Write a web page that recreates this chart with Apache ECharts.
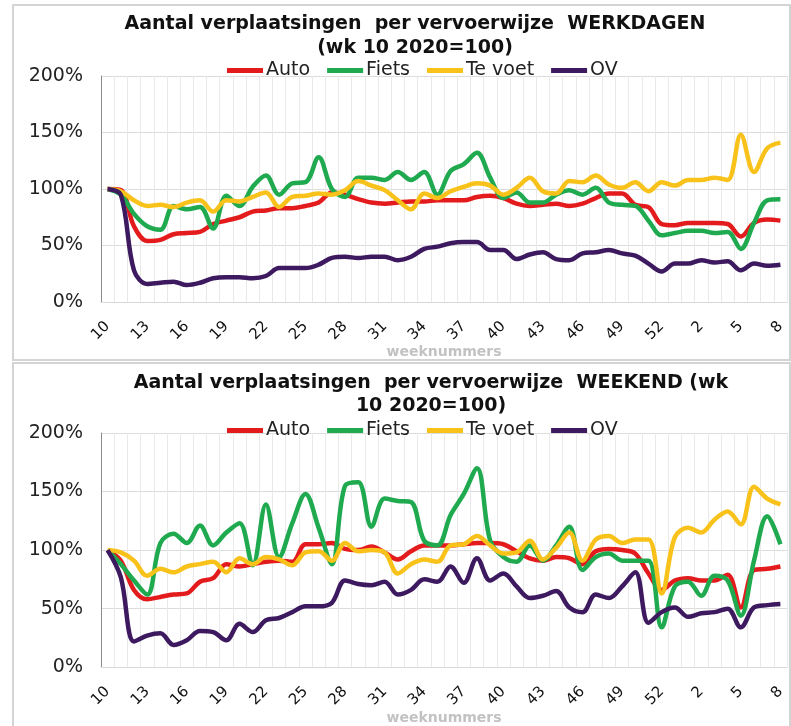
<!DOCTYPE html>
<html>
<head>
<meta charset="utf-8">
<script src="https://cdn.jsdelivr.net/npm/echarts@6/dist/echarts.min.js"></script>
<style>
  html, body { margin: 0; padding: 0; background: #fff; }
  #chart { width: 791px; height: 726px; }
</style>
</head>
<body>
<div id="chart"></div>
<script>
  // weeknummers: wk 10 t/m 53 van 2020, daarna wk 1 t/m 8 van 2021
  var weeks = ['10','11','12','13','14','15','16','17','18','19','20','21','22','23','24','25','26','27','28','29',
    '30','31','32','33','34','35','36','37','38','39','40','41','42','43','44','45','46','47','48','49',
    '50','51','52','53','1','2','3','4','5','6','7','8'];

  // werkdagen (wk 10 2020 = 100)
  var werkAuto = [100,99,67,54,55,60,61,62,69,72,75,80,81,83,83,85,88,97,95,91,
    88,87,88,89,89,90,90,90,93,94,92,87,85,86,87,85,87,92,96,96,
    86,84,69,68,70,70,70,69,58,70,73,72];
  var werkFiets = [100,95,78,67,64,85,82,84,65,94,85,102,112,95,105,106,128,100,93,110,
    110,108,115,108,115,95,116,122,132,110,92,97,88,88,95,99,95,101,88,86,
    85,72,59,61,63,63,61,62,47,70,90,91];
  var werkVoet = [100,98,90,85,86,84,88,90,80,90,89,93,97,84,93,94,96,95,99,107,
    103,99,90,82,96,92,98,102,105,103,95,101,110,98,96,107,106,112,104,101,
    106,98,106,103,108,108,110,108,148,115,136,141];
  var werkOV = [100,95,28,16,17,18,15,17,21,22,22,21,23,30,30,30,33,39,40,39,
    40,40,37,40,47,49,52,53,53,46,46,38,42,44,38,37,43,44,46,43,
    41,34,27,34,34,37,35,36,28,34,32,33];

  // weekend (wk 10 2020 = 100)
  var wkndAuto = [100,91,66,58,60,62,63,73,76,88,86,88,90,91,90,105,105,106,101,100,
    103,98,92,99,104,104,104,105,106,106,105,99,93,91,94,93,88,99,101,100,
    97,80,66,74,76,74,74,79,51,83,84,86];
  var wkndFiets = [100,88,74,62,106,114,106,121,104,115,123,87,139,94,123,148,119,88,155,158,
    120,144,142,141,108,104,130,148,170,108,94,90,104,91,104,120,83,94,97,91,
    91,91,34,69,73,61,78,74,44,91,129,105];
  var wkndVoet = [100,98,91,78,84,81,86,88,90,81,93,88,94,92,87,98,99,91,106,99,
    100,98,80,88,92,90,104,105,112,104,97,98,108,92,102,115,91,109,112,106,
    109,109,63,111,119,115,126,133,122,154,144,139];
  var wkndOV = [100,77,22,27,29,19,23,31,30,23,37,30,40,42,47,52,52,55,74,71,
    70,73,62,66,75,73,86,72,93,74,80,69,59,61,65,51,47,62,59,69,
    81,38,47,51,43,46,47,50,34,51,53,54];

  var names = ['Auto', 'Fiets', 'Te voet', 'OV'];
  var colors = ['#e41b1d', '#1faa4f', '#f9c21b', '#3d1a60'];
  var font = 'DejaVu Sans';

  var chart = echarts.init(document.getElementById('chart'), null, {renderer: 'canvas'});

  function xAxisFor(idx) {
    return {
      type: 'category',
      gridIndex: idx,
      data: weeks,
      boundaryGap: true,
      name: 'weeknummers',
      nameLocation: 'middle',
      nameGap: 41,
      nameTextStyle: {color: '#c2c2c2', fontWeight: 'bold', fontSize: 14, fontFamily: font},
      axisLine: {lineStyle: {color: '#d9d9d9'}},
      axisTick: {show: false},
      axisLabel: {interval: 2, rotate: 45, margin: 22, fontSize: 15, color: '#111', fontFamily: font},
      splitLine: {show: true, interval: 0, lineStyle: {color: '#e9e9e9', width: 1}}
    };
  }

  function yAxisFor(idx) {
    return {
      type: 'value',
      gridIndex: idx,
      min: 0,
      max: 200,
      interval: 50,
      axisLine: {show: true, lineStyle: {color: '#8c8c8c'}},
      axisTick: {show: false},
      axisLabel: {formatter: '{value}%', margin: 18, fontSize: 19, color: '#222', fontFamily: font},
      splitLine: {lineStyle: {color: '#dcdcdc'}}
    };
  }

  function lineSeries(name, data, idx, color) {
    return {
      name: name,
      type: 'line',
      xAxisIndex: idx,
      yAxisIndex: idx,
      data: data,
      smooth: 0.35,
      showSymbol: false,
      lineStyle: {width: 4.5, color: color},
      itemStyle: {color: color}
    };
  }

  function legendFor(top) {
    return {
      data: names,
      left: 222,
      top: top,
      icon: 'rect',
      itemWidth: 36,
      itemHeight: 5,
      itemGap: 17,
      textStyle: {fontSize: 19, color: '#222', fontFamily: font, padding: [0, 0, 0, -2]}
    };
  }

  var option = {
    animation: false,
    backgroundColor: '#fff',
    graphic: [
      {type: 'rect', shape: {x: 13, y: 5, width: 777, height: 355}, style: {fill: 'none', stroke: '#d4d4d4', lineWidth: 2}},
      {type: 'rect', shape: {x: 13, y: 363, width: 777, height: 370}, style: {fill: 'none', stroke: '#d4d4d4', lineWidth: 2}}
    ],
    title: [
      {
        text: 'Aantal verplaatsingen  per vervoerwijze  WERKDAGEN\n(wk 10 2020=100)',
        left: 415, top: 12, padding: 0, textAlign: 'center',
        textStyle: {fontSize: 19, fontWeight: 'bold', color: '#111', fontFamily: font, lineHeight: 24}
      },
      {
        text: 'Aantal verplaatsingen  per vervoerwijze  WEEKEND (wk\n10 2020=100)',
        left: 431, top: 372, padding: 0, textAlign: 'center',
        textStyle: {fontSize: 19, fontWeight: 'bold', color: '#111', fontFamily: font, lineHeight: 23}
      }
    ],
    legend: [legendFor(56), legendFor(416)],
    grid: [
      {left: 101, top: 76, width: 686, height: 226},
      {left: 101, top: 433, width: 686, height: 240}
    ],
    xAxis: [xAxisFor(0), xAxisFor(1)],
    yAxis: [yAxisFor(0), yAxisFor(1)],
    series: [
      lineSeries(names[0], werkAuto, 0, colors[0]),
      lineSeries(names[1], werkFiets, 0, colors[1]),
      lineSeries(names[2], werkVoet, 0, colors[2]),
      lineSeries(names[3], werkOV, 0, colors[3]),
      lineSeries(names[0], wkndAuto, 1, colors[0]),
      lineSeries(names[1], wkndFiets, 1, colors[1]),
      lineSeries(names[2], wkndVoet, 1, colors[2]),
      lineSeries(names[3], wkndOV, 1, colors[3])
    ]
  };

  chart.setOption(option);
</script>
</body>
</html>
